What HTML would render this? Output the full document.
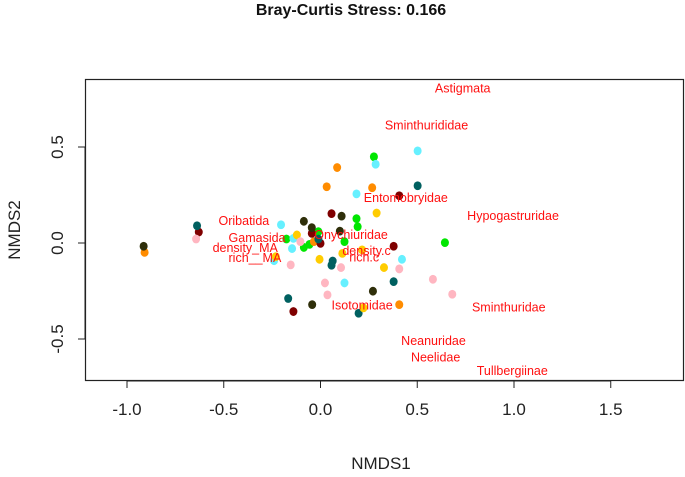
<!DOCTYPE html>
<html><head><meta charset="utf-8"><style>
body{margin:0;background:#fff;}
svg text{font-family:"Liberation Sans",Arial,sans-serif;}
</style></head><body>
<svg id="chart" width="685" height="472" viewBox="0 0 685 472" xmlns="http://www.w3.org/2000/svg">
<text x="351" y="15" text-anchor="middle" font-size="16" font-weight="bold" fill="#111">Bray-Curtis Stress: 0.166</text>
<rect x="85.5" y="79.5" width="598" height="301" fill="none" stroke="#222" stroke-width="1.2"/>
<g id="xaxis"></g>
<g id="yaxis"></g>
<g id="points"></g>
<g id="labels"></g>
<text x="381" y="469" text-anchor="middle" font-size="17" fill="#222">NMDS1</text>
<text x="0" y="0" text-anchor="middle" font-size="17" fill="#222" transform="translate(20,230) rotate(-90)">NMDS2</text>
</svg>
<script>
const xTicks=[-1.0,-0.5,0.0,0.5,1.0,1.5];
const xTickLabels=["-1.0","-0.5","0.0","0.5","1.0","1.5"];
const yTicks=[0.5,0.0,-0.5];
const yTickLabels=["0.5","0.0","-0.5"];
const groupColors=["#00e600","#66f0ff","#ff8c00","#7f0000","#2f2f0a","#006060","#ffcc00","#ffb6c1"];
const groupNames=["green","cyan","orange","darkred","olive","teal","gold","pink"];
const groupX=[
[0.276,0.186,0.192,0.643,0.124,-0.011,-0.176,-0.086,-0.057],
[0.502,0.285,0.186,-0.204,-0.14,-0.147,-0.24,0.421,0.124],
[0.086,0.032,0.267,-0.909,0.407,-0.034],
[0.407,0.057,-0.629,-0.045,0,0.378,-0.14],
[-0.914,-0.086,-0.045,0.109,0.1,0.271,-0.043],
[-0.638,0.502,-0.011,0.063,0.057,0.378,-0.167,0.197],
[0.29,-0.122,0.215,0.113,-0.005,0.328,0.222,-0.231],
[-0.643,-0.104,-0.154,0.106,0.407,0.023,0.036,0.581,0.681]];
const groupY=[
[0.449,0.127,0.085,0.002,0.007,0.059,0.021,-0.023,-0.007],
[0.48,0.41,0.256,0.095,0.024,-0.029,-0.092,-0.085,-0.208],
[0.393,0.293,0.288,-0.049,-0.321,0.007],
[0.246,0.153,0.057,0.05,-0.002,-0.017,-0.357],
[-0.017,0.113,0.08,0.14,0.062,-0.251,-0.321],
[0.09,0.298,0.021,-0.094,-0.116,-0.201,-0.289,-0.366],
[0.156,0.042,-0.036,-0.054,-0.085,-0.128,-0.338,-0.071],
[0.021,0.007,-0.114,-0.128,-0.135,-0.208,-0.27,-0.189,-0.267]];
const labelNames=["Astigmata","Sminthurididae","Entomobryidae","Hypogastruridae","Oribatida","Gamasida","Onychiuridae","density_MA","rich__MA","density.c","rich.c","Isotomidae","Sminthuridae","Neanuridae","Neelidae","Tullbergiinae"];
const labelX=[0.735,0.548,0.441,0.995,-0.396,-0.328,0.158,-0.389,-0.339,0.238,0.226,0.215,0.973,0.584,0.595,0.991];
const labelY=[0.806,0.614,0.236,0.142,0.118,0.028,0.043,-0.024,-0.075,-0.038,-0.073,-0.322,-0.334,-0.508,-0.594,-0.664];

const NS="http://www.w3.org/2000/svg";
function sx(v){return 320.5+v*193.5;}
function syd(v){return 243-v*192;}
function mk(t,a,p){const e=document.createElementNS(NS,t);for(const k in a)e.setAttribute(k,a[k]);p.appendChild(e);return e;}
const xa=document.getElementById('xaxis');
mk('line',{x1:sx(-1),x2:sx(1.5),y1:381,y2:381,stroke:'#222'},xa);
xTicks.forEach((t,i)=>{
 const l=mk('line',{x1:sx(t),x2:sx(t),y1:381,y2:388,stroke:'#222'},xa);
 
 
 const tx=mk('text',{x:sx(t),y:415,'text-anchor':'middle','font-size':17,fill:'#222'},xa);
 tx.textContent=xTickLabels[i];
 
 
});
const ya=document.getElementById('yaxis');
mk('line',{x1:85,x2:85,y1:syd(0.5),y2:syd(-0.5),stroke:'#222'},ya);
yTicks.forEach((t,i)=>{
 const l=mk('line',{x1:78,x2:85,y1:syd(t),y2:syd(t),stroke:'#222'},ya);
 
 
 const tx=mk('text',{x:0,y:0,'text-anchor':'middle','font-size':17,fill:'#222',transform:`translate(63,${syd(t)}) rotate(-90)`},ya);
 tx.textContent=yTickLabels[i];
 
 
});
const pg=document.getElementById('points');
groupX.forEach((xs,g)=>{
 xs.forEach((x,i)=>{
  const c=mk('ellipse',{cx:sx(x),cy:syd(groupY[g][i]),rx:4,ry:4.4,fill:groupColors[g]},pg);
  
  
 });
});
const lg=document.getElementById('labels');
labelNames.forEach((n,i)=>{
 const t=mk('text',{x:sx(labelX[i]),y:syd(labelY[i])+4.5,'text-anchor':'middle','font-size':12.5,fill:'#ff1010'},lg);
 t.textContent=n;
 
 
});
</script>
</body></html>
